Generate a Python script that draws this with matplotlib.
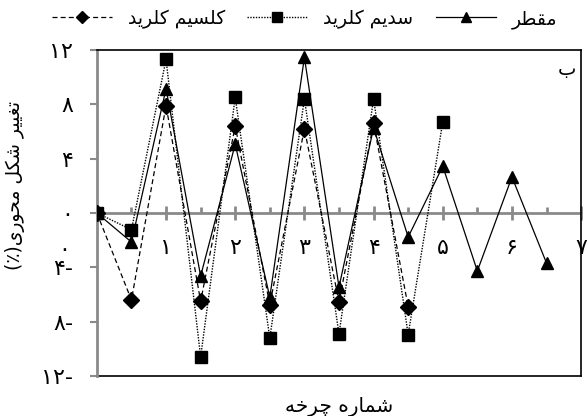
import matplotlib
matplotlib.use('Agg')
import matplotlib.pyplot as plt
import matplotlib.transforms as mtransforms
from matplotlib.ticker import FixedLocator

# ---------------- data ----------------
cycles = [0, 0.5, 1, 1.5, 2, 2.5, 3, 3.5, 4, 4.5, 5, 5.5, 6, 6.5]
distilled = [0, -2.14, 9.14, -4.64, 5.06, -6.2, 11.45, -5.45, 6.27, -1.77, 3.44, -4.27, 2.65, -3.69]
nacl = [0, -1.23, 11.3, -10.6, 8.5, -9.2, 8.4, -8.9, 8.4, -8.95, 6.7]
cacl2 = [0, -6.4, 7.9, -6.5, 6.4, -6.75, 6.2, -6.55, 6.6, -6.9]

name_distilled = "مقطر"
name_nacl = "سدیم کلرید"
name_cacl2 = "کلسیم کلرید"
xlabel_text = "شماره چرخه"
ylabel_text = "تغییر شکل محوری(٪)"
panel_text = "ب"

x_ticks = [0, 1, 2, 3, 4, 5, 6, 7]
y_ticks = [-12, -8, -4, 0, 4, 8, 12]

# ---------------- minimal Persian shaping ----------------
FORMS = {
    'ا': ('\uFE8D', '\uFE8E', None, None),
    'ب': ('\uFE8F', '\uFE90', '\uFE91', '\uFE92'),
    'ت': ('\uFE95', '\uFE96', '\uFE97', '\uFE98'),
    'ح': ('\uFEA1', '\uFEA2', '\uFEA3', '\uFEA4'),
    'خ': ('\uFEA5', '\uFEA6', '\uFEA7', '\uFEA8'),
    'د': ('\uFEA9', '\uFEAA', None, None),
    'ر': ('\uFEAD', '\uFEAE', None, None),
    'س': ('\uFEB1', '\uFEB2', '\uFEB3', '\uFEB4'),
    'ش': ('\uFEB5', '\uFEB6', '\uFEB7', '\uFEB8'),
    'ط': ('\uFEC1', '\uFEC2', '\uFEC3', '\uFEC4'),
    'غ': ('\uFECD', '\uFECE', '\uFECF', '\uFED0'),
    'ق': ('\uFED5', '\uFED6', '\uFED7', '\uFED8'),
    'ل': ('\uFEDD', '\uFEDE', '\uFEDF', '\uFEE0'),
    'م': ('\uFEE1', '\uFEE2', '\uFEE3', '\uFEE4'),
    'ه': ('\uFEE9', '\uFEEA', '\uFEEB', '\uFEEC'),
    'و': ('\uFEED', '\uFEEE', None, None),
    'چ': ('\uFB7A', '\uFB7B', '\uFB7C', '\uFB7D'),
    'ک': ('\uFB8E', '\uFB8F', '\uFB90', '\uFB91'),
    'ی': ('\uFBFC', '\uFBFD', '\uFBFE', '\uFBFF'),
}
MIRROR = {'(': ')', ')': '('}


def fa(text):
    out = []
    n = len(text)
    for i, c in enumerate(text):
        if c not in FORMS:
            out.append(c)
            continue
        iso, fin, ini, med = FORMS[c]
        prev = text[i - 1] if i > 0 else ''
        nxt = text[i + 1] if i < n - 1 else ''
        jp = prev in FORMS and FORMS[prev][2] is not None
        jn = ini is not None and nxt in FORMS
        if jp and jn:
            out.append(med)
        elif jp:
            out.append(fin)
        elif jn:
            out.append(ini)
        else:
            out.append(iso)
    vis = [MIRROR.get(ch, ch) for ch in reversed(out)]
    return ''.join(vis)


PD = '۰۱۲۳۴۵۶۷۸۹'


def fa_num(v):
    s = ''.join(PD[int(d)] for d in str(abs(int(v))))
    return s + '-' if v < 0 else s


plt.rcParams['font.family'] = ['DejaVu Sans']

fig = plt.figure(figsize=(5.87, 4.16), dpi=100)
ax = fig.add_axes([0.165, 0.096, 0.825, 0.784])

gray = '#8a8a8a'

l3, = ax.plot(cycles[:len(cacl2)], cacl2, color='black', lw=0.9, linestyle=(0, (4, 2.5)),
              marker='D', markersize=8, markerfacecolor='black', markeredgecolor='black',
              label=fa(name_cacl2), zorder=3)
l2, = ax.plot(cycles[:len(nacl)], nacl, color='black', lw=1.0, linestyle=(0, (1, 1)),
              marker='s', markersize=9, markerfacecolor='black', markeredgecolor='black',
              label=fa(name_nacl), zorder=4)
l1, = ax.plot(cycles, distilled, color='black', lw=0.9, linestyle='-',
              marker='^', markersize=9, markerfacecolor='black', markeredgecolor='black',
              label=fa(name_distilled), zorder=5)

ax.set_xlim(0, 7)
ax.set_ylim(-12, 12)

# spines
ax.spines['bottom'].set_position(('data', 0))
ax.spines['bottom'].set_color(gray)
ax.spines['bottom'].set_linewidth(2)
ax.spines['bottom'].set_zorder(1)
ax.spines['left'].set_color(gray)
ax.spines['left'].set_linewidth(2)
for s in ('top', 'right'):
    ax.spines[s].set_color('black')
    ax.spines[s].set_linewidth(1.2)
ax.plot([0, 1], [0, 0], transform=ax.transAxes, color='black', lw=1.2, clip_on=False)

# ticks
ax.xaxis.set_major_locator(FixedLocator(x_ticks))
ax.xaxis.set_minor_locator(FixedLocator([t + 0.5 for t in x_ticks[:-1]]))
ax.set_xticklabels([''] + [fa_num(t) for t in x_ticks[1:]])
ax.tick_params(axis='x', which='major', direction='inout', length=10, width=2, color=gray,
               labelsize=16, pad=13)
ax.tick_params(axis='x', which='minor', direction='in', length=4, width=2, color=gray)
ax.text(0, 0, fa_num(0), transform=ax.transData + mtransforms.ScaledTranslation(-33 / 100, -37 / 100, fig.dpi_scale_trans),
        ha='center', va='center', fontsize=16)

ax.yaxis.set_major_locator(FixedLocator(y_ticks))
ax.set_yticklabels([fa_num(t) for t in y_ticks])
ax.tick_params(axis='y', which='major', direction='out', length=5, width=1.5, color=gray,
               labelsize=16, pad=12)

ax.set_xlabel(fa(xlabel_text), fontsize=14.5)
ax.xaxis.set_label_coords(0.5, -0.065)
ax.set_ylabel(fa(ylabel_text), fontsize=13.5)
ax.yaxis.set_label_coords(-0.148, 0.583)

ax.text(0.97, 0.94, fa(panel_text), transform=ax.transAxes, ha='center', va='center', fontsize=14)

leg = fig.legend(handles=[l3, l2, l1], loc='center left', bbox_to_anchor=(0.088, 0.955), ncol=3,
                 frameon=False, fontsize=13.5, handlelength=3.2, columnspacing=1.2,
                 handletextpad=0.85, markerfirst=True, borderpad=0, borderaxespad=0,
                 markerscale=0.75)

fig.savefig('out.png', dpi=100)
